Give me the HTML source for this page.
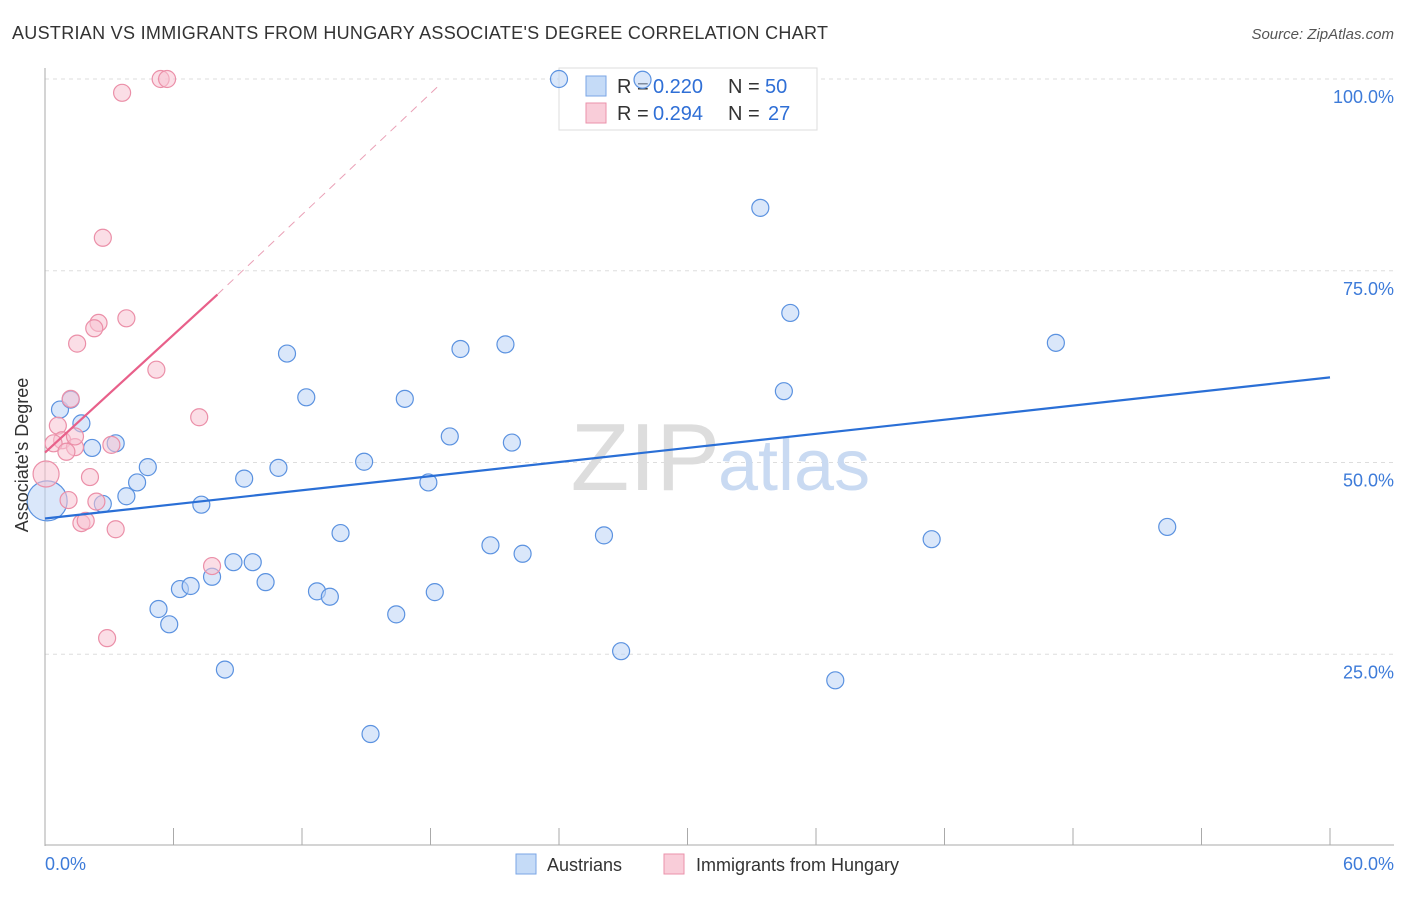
<!DOCTYPE html>
<html><head><meta charset="utf-8"><style>
body{margin:0;background:#fff;font-family:"Liberation Sans",sans-serif}
svg text{font-family:"Liberation Sans",sans-serif}
</style></head><body>
<svg id="c" width="1406" height="892">
<text x="12" y="39" font-size="18" fill="#333" textLength="816">AUSTRIAN VS IMMIGRANTS FROM HUNGARY ASSOCIATE'S DEGREE CORRELATION CHART</text>
<text x="1394" y="39" font-size="15" fill="#555" font-style="italic" text-anchor="end">Source: ZipAtlas.com</text>
<g id="grid"></g>
<text x="720" y="490" font-size="96" fill="#ddd" text-anchor="end" font-family="Liberation Serif">ZIP</text>
<text x="718" y="490" font-size="72" fill="#c9daf2">atlas</text>
<g>
<rect x="559" y="68" width="258" height="62" fill="#fff" stroke="#ddd"/>
<rect x="586" y="76" width="20" height="20" fill="#c5dbf7" stroke="#7aa6e6"/>
<text x="617" y="93" font-size="20" fill="#333">R =</text>
<text x="653" y="93" font-size="20" fill="#2f6fd6">0.220</text>
<text x="728" y="93" font-size="20" fill="#333">N =</text>
<text x="765" y="93" font-size="20" fill="#2f6fd6">50</text>
<rect x="586" y="103" width="20" height="20" fill="#f9cdd9" stroke="#eb92ab"/>
<text x="617" y="120" font-size="20" fill="#333">R =</text>
<text x="653" y="120" font-size="20" fill="#2f6fd6">0.294</text>
<text x="728" y="120" font-size="20" fill="#333">N =</text>
<text x="768" y="120" font-size="20" fill="#2f6fd6">27</text>
</g>
<g id="pts"></g>
<g id="lines"></g>
<text x="28" y="455" font-size="18" fill="#333" text-anchor="middle" transform="rotate(-90 28 455)">Associate's Degree</text>
<text x="45" y="870" font-size="18" fill="#3d7bd9">0.0%</text>
<text x="1394" y="870" font-size="18" fill="#3d7bd9" text-anchor="end">60.0%</text>
<g>
<rect x="516" y="854" width="20" height="20" fill="#c5dbf7" stroke="#7aa6e6"/>
<text x="547" y="871" font-size="18" fill="#333">Austrians</text>
<rect x="664" y="854" width="20" height="20" fill="#f9cdd9" stroke="#eb92ab"/>
<text x="696" y="871" font-size="18" fill="#333">Immigrants from Hungary</text>
</g>
</svg>
<script>
const yTicks=[25,50,75,100];
const xTicks=[0,6,12,18,24,30,36,42,48,54,60];
const blueX=[24.0,27.9,33.4,34.8,47.2,34.5,11.3,19.4,21.5,12.2,16.8,18.9,21.8,14.9,10.9,9.3,17.9,0.7,1.2,1.7,2.2,3.3,4.8,4.3,3.8,2.7,7.3,0.1,13.8,20.8,22.3,26.1,41.4,52.4,8.8,9.7,7.8,10.3,6.3,6.8,12.7,13.3,18.2,5.3,5.8,16.4,26.9,8.4,36.9,15.2];
const blueY=[100,99.9,83.2,69.5,65.6,59.3,64.2,64.8,65.4,58.5,58.3,53.4,52.6,50.1,49.3,47.9,47.4,56.9,58.2,55.1,51.9,52.5,49.4,47.4,45.6,44.6,44.5,45,40.8,39.2,38.1,40.5,40,41.6,37,37,35.1,34.4,33.5,33.9,33.2,32.5,33.1,30.9,28.9,30.2,25.4,23,21.6,14.6];
const blueR=[8.5,8.5,8.5,8.5,8.5,8.5,8.5,8.5,8.5,8.5,8.5,8.5,8.5,8.5,8.5,8.5,8.5,8.5,8.5,8.5,8.5,8.5,8.5,8.5,8.5,8.5,8.5,20,8.5,8.5,8.5,8.5,8.5,8.5,8.5,8.5,8.5,8.5,8.5,8.5,8.5,8.5,8.5,8.5,8.5,8.5,8.5,8.5,8.5,8.5];
const pinkX=[5.4,5.7,3.6,2.7,2.5,3.8,2.3,1.5,5.2,7.2,1.2,0.6,0.8,0.4,1.4,1.0,3.1,0.05,2.1,1.1,2.4,1.7,1.9,3.3,7.8,2.9,1.4];
const pinkY=[100,100,98.2,79.3,68.2,68.8,67.5,65.5,62.1,55.9,58.3,54.8,52.9,52.5,52,51.4,52.3,48.5,48.1,45.1,44.9,42.1,42.4,41.3,36.5,27.1,53.4];
const pinkR=[8.5,8.5,8.5,8.5,8.5,8.5,8.5,8.5,8.5,8.5,8.5,8.5,8.5,8.5,8.5,8.5,8.5,13,8.5,8.5,8.5,8.5,8.5,8.5,8.5,8.5,8.5];
const blueTrend=[[0,42.7],[60,61.1]];
const pinkTrend=[[0,51.3],[8.05,71.9]];
const pinkDash=[[8.05,71.9],[18.45,99.3]];
const X=v=>45+v/60*1285, Y=v=>846-v/100*767;
const NS='http://www.w3.org/2000/svg';
function mk(p,t,a){const e=document.createElementNS(NS,t);for(const k in a)e.setAttribute(k,a[k]);p.appendChild(e);return e;}
const g=document.getElementById('grid');
for(const t of yTicks){
 const l=mk(g,'line',{x1:45,x2:1394,y1:Y(t),y2:Y(t),stroke:'#ddd','stroke-dasharray':'4,4'});
 
 
 const tx=mk(g,'text',{x:1394,y:Y(t)+24,'font-size':18,fill:'#3d7bd9','text-anchor':'end'});tx.textContent=t.toFixed(1)+'%';
 
 
}
mk(g,'line',{x1:45,x2:45,y1:68,y2:846,stroke:'#aaa'});
mk(g,'line',{x1:45,x2:1394,y1:845,y2:845,stroke:'#aaa'});
for(const t of xTicks){
 const l=mk(g,'line',{x1:X(t),x2:X(t),y1:828,y2:845,stroke:'#aaa'});
 
 
}
const p=document.getElementById('pts');
function dots(xs,ys,rs,fill,stroke,name){for(let i=0;i<xs.length;i++){
 const c=mk(p,'circle',{cx:X(xs[i]),cy:Y(ys[i]),r:rs[i],fill:fill,'fill-opacity':0.55,stroke:stroke,'stroke-width':1.2});
 
 
}}
dots(blueX,blueY,blueR,'#bcd4f5','#5b92e0','austrians-point');
dots(pinkX,pinkY,pinkR,'#f8c3d2','#eb8fa8','hungary-point');
const L=document.getElementById('lines');
let a=mk(L,'line',{x1:X(blueTrend[0][0]),y1:Y(blueTrend[0][1]),x2:X(blueTrend[1][0]),y2:Y(blueTrend[1][1]),stroke:'#2a6fd6','stroke-width':2.2});


a=mk(L,'line',{x1:X(pinkTrend[0][0]),y1:Y(pinkTrend[0][1]),x2:X(pinkTrend[1][0]),y2:Y(pinkTrend[1][1]),stroke:'#e8608a','stroke-width':2.2});


a=mk(L,'line',{x1:X(pinkDash[0][0]),y1:Y(pinkDash[0][1]),x2:X(pinkDash[1][0]),y2:Y(pinkDash[1][1]),stroke:'#eaa0b6','stroke-width':1,'stroke-dasharray':'8,6'});


</script>
</body></html>
